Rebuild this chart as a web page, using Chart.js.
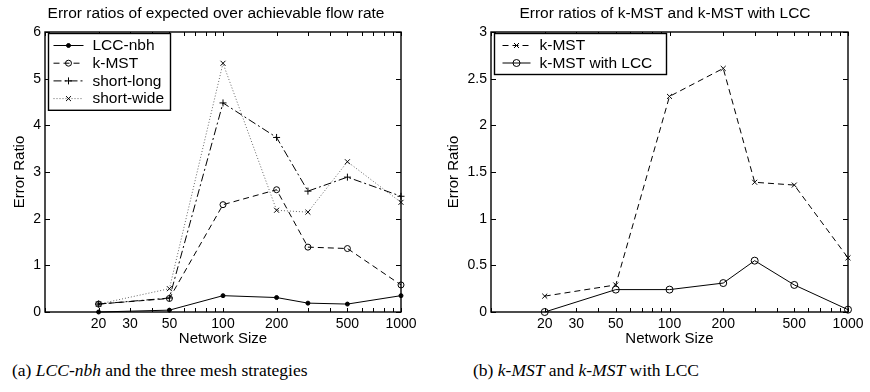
<!DOCTYPE html>
<html>
<head>
<meta charset="utf-8">
<script src="https://cdn.jsdelivr.net/npm/chart.js@4.4.1/dist/chart.umd.min.js"></script>
<style>
  html, body { margin: 0; padding: 0; background: #fff; }
  body { width: 870px; height: 392px; position: relative; overflow: hidden; }
  .panel { position: absolute; top: 0; width: 435px; height: 350px; }
  .caption {
    position: absolute; top: 360px; line-height: 20px; white-space: nowrap; color: #000;
    font: 17.5px "Liberation Serif", "Times New Roman", serif;
  }
</style>
</head>
<body>
<div class="panel" style="left:0"><canvas id="chart-a" width="435" height="350"></canvas></div>
<div class="panel" style="left:435px"><canvas id="chart-b" width="435" height="350"></canvas></div>
<div class="caption" style="left:12px">(a) <i>LCC-nbh</i> and the three mesh strategies</div>
<div class="caption" style="left:473px">(b) <i>k-MST</i> and <i>k-MST</i> with LCC</div>
<script>
// network sizes where the error ratios were measured
const networkSizes = [20, 50, 100, 200, 300, 500, 1000]
const sizeTicks = [20, 30, 50, 100, 200, 500, 1000]
const logMinorTicks = [10, 20, 30, 40, 50, 60, 70, 80, 90, 100, 200, 300, 400, 500, 600, 700, 800, 900, 1000]

// (a) LCC-nbh and the mesh strategies
const lccNbh = [0, 0.04, 0.35, 0.31, 0.19, 0.17, 0.35]
const kMst = [0.17, 0.29, 2.30, 2.62, 1.39, 1.36, 0.58]
const shortLong = [0.17, 0.30, 4.48, 3.74, 2.59, 2.89, 2.48]
const shortWide = [0.17, 0.50, 5.33, 2.18, 2.14, 3.22, 2.35]

// (b) k-MST alone and with LCC
const kMstB = [0.17, 0.29, 2.31, 2.61, 1.39, 1.36, 0.58]
const kMstLcc = [0, 0.24, 0.24, 0.31, 0.55, 0.29, 0.025]

const FONT = '"Liberation Sans", Arial, Helvetica, sans-serif'
Chart.defaults.font.family = FONT
Chart.defaults.color = '#000'

function points(values) {
  return networkSizes.map((n, i) => ({ x: n, y: values[i] }))
}

function series(label, values, style) {
  return Object.assign({
    label,
    data: points(values),
    borderColor: '#000',
    borderWidth: 1,
    borderDash: [],
    pointBorderColor: '#000',
    pointBorderWidth: 1,
    pointBackgroundColor: 'rgba(0,0,0,0)',
    tension: 0,
    fill: false,
    clip: false
  }, style)
}

function marker(ctx, style, r, fill, x, y) {
  ctx.beginPath()
  if (style === 'circle') {
    ctx.arc(x, y, r, 0, Math.PI * 2)
    ctx.fillStyle = fill
    ctx.fill()
  } else if (style === 'cross') {
    ctx.moveTo(x - r, y); ctx.lineTo(x + r, y)
    ctx.moveTo(x, y - r); ctx.lineTo(x, y + r)
  } else if (style === 'crossRot') {
    const d = r * Math.SQRT1_2
    ctx.moveTo(x - d, y - d); ctx.lineTo(x + d, y + d)
    ctx.moveTo(x - d, y + d); ctx.lineTo(x + d, y - d)
  }
  ctx.stroke()
}

// box, inward ticks, title and legend in the old matlab look
const matlabAxes = {
  id: 'matlabAxes',
  afterDatasetsDraw(chart, args, opts) {
    const { ctx, chartArea: a, scales: { x, y } } = chart
    ctx.save()
    ctx.strokeStyle = '#000'
    ctx.setLineDash([])
    ctx.lineWidth = 1
    ctx.beginPath()
    for (const v of logMinorTicks) {
      const px = Math.round(x.getPixelForValue(v)) + 0.5
      ctx.moveTo(px, a.bottom); ctx.lineTo(px, a.bottom - 4)
      ctx.moveTo(px, a.top); ctx.lineTo(px, a.top + 4)
    }
    for (const t of y.ticks) {
      const py = Math.round(y.getPixelForValue(t.value)) + 0.5
      ctx.moveTo(a.left, py); ctx.lineTo(a.left + 5, py)
      ctx.moveTo(a.right, py); ctx.lineTo(a.right - 5, py)
    }
    ctx.stroke()
    ctx.lineWidth = 1.4
    ctx.strokeRect(a.left, a.top, a.right - a.left, a.bottom - a.top)

    // title
    ctx.fillStyle = '#000'
    ctx.font = '15.5px ' + FONT
    ctx.textAlign = 'center'
    ctx.textBaseline = 'middle'
    ctx.fillText(opts.title, opts.titleX, 14)

    // legend
    const lg = opts.legend
    const rows = chart.data.datasets.length
    ctx.fillStyle = '#fff'
    ctx.fillRect(lg.x, lg.y, lg.w, rows * lg.row + 6)
    ctx.lineWidth = 1.4
    ctx.strokeRect(lg.x, lg.y, lg.w, rows * lg.row + 6)
    chart.data.datasets.forEach((ds, i) => {
      const cy = lg.y + 12 + i * lg.row
      const x0 = lg.x + lg.sampleX, x1 = x0 + lg.sampleW
      ctx.strokeStyle = ds.borderColor
      ctx.lineWidth = ds.borderWidth
      ctx.setLineDash(ds.borderDash)
      ctx.beginPath(); ctx.moveTo(x0, cy); ctx.lineTo(x1, cy); ctx.stroke()
      ctx.setLineDash([])
      ctx.strokeStyle = ds.pointBorderColor
      marker(ctx, ds.pointStyle, ds.pointRadius, ds.pointBackgroundColor, (x0 + x1) / 2, cy)
      ctx.fillStyle = '#000'
      ctx.textAlign = 'left'
      ctx.fillText(ds.label, lg.x + lg.textX, cy + 0.5)
    })
    ctx.restore()
  }
}

function makeChart(id, datasets, o) {
  return new Chart(document.getElementById(id), {
    type: 'line',
    data: { datasets },
    plugins: [matlabAxes],
    options: {
      responsive: false,
      animation: false,
      layout: { padding: { top: 32, right: o.padRight, bottom: 0, left: 0 } },
      plugins: {
        legend: { display: false },
        title: { display: false },
        tooltip: { enabled: false },
        matlabAxes: o.frame
      },
      scales: {
        x: {
          type: 'logarithmic',
          min: 10,
          max: 1000,
          grid: { display: false, drawTicks: false },
          border: { display: false },
          afterBuildTicks: axis => { axis.ticks = sizeTicks.map(v => ({ value: v })) },
          afterFit: axis => { axis.height = 38 },
          ticks: {
            autoSkip: false, maxRotation: 0, minRotation: 0, padding: 4,
            font: { size: 14 },
            callback: v => String(v)
          },
          title: { display: true, text: 'Network Size', font: { size: 15 }, padding: { top: 0, bottom: 2 } }
        },
        y: {
          min: 0,
          max: o.yMax,
          grid: { display: false, drawTicks: false },
          border: { display: false },
          afterFit: axis => { axis.width = o.yWidth },
          ticks: { stepSize: o.yStep, padding: 4, font: { size: 14 }, callback: v => String(v) },
          title: { display: true, text: 'Error Ratio', font: { size: 15 }, padding: { top: o.yTitlePad, bottom: 0 } }
        }
      }
    }
  })
}

makeChart('chart-a', [
  series('LCC-nbh', lccNbh, { pointStyle: 'circle', pointRadius: 2, pointBackgroundColor: '#000' }),
  series('k-MST', kMst, { borderDash: [6, 4], pointStyle: 'circle', pointRadius: 3 }),
  series('short-long', shortLong, { borderDash: [8, 3, 2, 3], pointStyle: 'cross', pointRadius: 3.5 }),
  series('short-wide', shortWide, { borderDash: [1, 2], borderColor: '#666', pointStyle: 'crossRot', pointRadius: 3.5 })
], {
  padRight: 34, yWidth: 45, yMax: 6, yStep: 1, yTitlePad: 11,
  frame: {
    title: 'Error ratios of expected over achievable flow rate', titleX: 216,
    legend: { x: 48.5, y: 33.5, w: 122, row: 17.7, sampleX: 5, sampleW: 30, textX: 44 }
  }
})

makeChart('chart-b', [
  series('k-MST', kMstB, { borderDash: [6, 4], pointStyle: 'crossRot', pointRadius: 3.5 }),
  series('k-MST with LCC', kMstLcc, { pointStyle: 'circle', pointRadius: 3.5 })
], {
  padRight: 22, yWidth: 56, yMax: 3, yStep: 0.5, yTitlePad: 10,
  frame: {
    title: 'Error ratios of k-MST and k-MST with LCC', titleX: 230,
    legend: { x: 59.5, y: 33.5, w: 172, row: 17.5, sampleX: 8, sampleW: 28, textX: 45 }
  }
})
</script>
</body>
</html>
